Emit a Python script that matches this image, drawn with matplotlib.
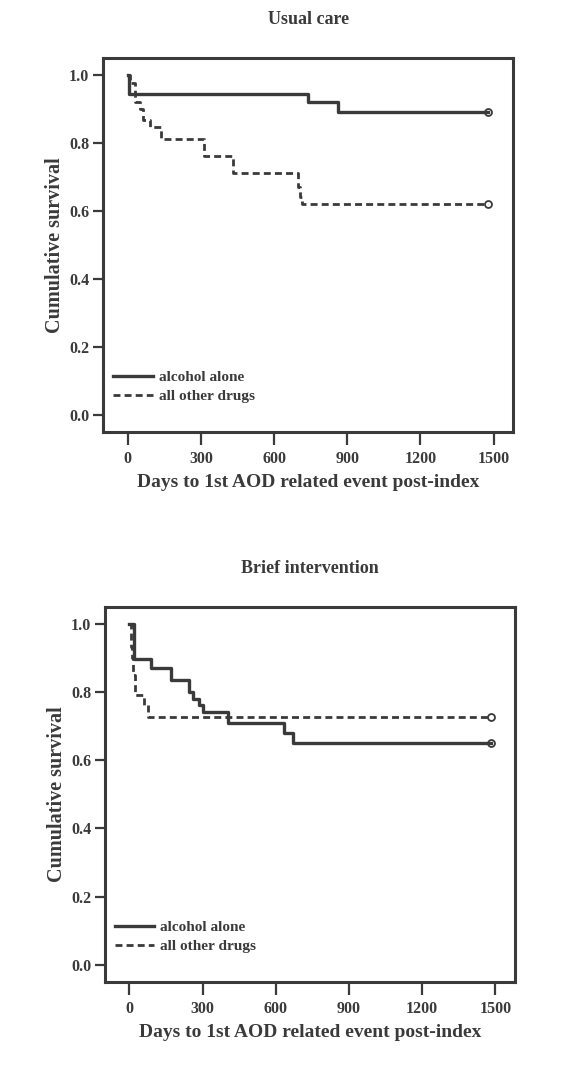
import matplotlib
matplotlib.use('Agg')
import matplotlib.pyplot as plt

# Usual care
uc_alc_days = [0, 5, 741, 863, 1477]
uc_alc_surv = [1.0, 0.943, 0.918, 0.889, 0.889]
uc_oth_days = [0, 8, 30, 50, 65, 90, 135, 311, 430, 698, 706, 716, 1477]
uc_oth_surv = [1.0, 0.975, 0.92, 0.90, 0.865, 0.845, 0.81, 0.76, 0.71, 0.67, 0.64, 0.62, 0.62]

# Brief intervention
bi_alc_days = [0, 20, 90, 172, 246, 262, 287, 302, 405, 634, 670, 1480]
bi_alc_surv = [1.0, 0.896, 0.87, 0.835, 0.80, 0.78, 0.76, 0.74, 0.71, 0.68, 0.65, 0.65]
bi_oth_days = [0, 5, 10, 15, 25, 60, 77, 1480]
bi_oth_surv = [1.0, 0.93, 0.90, 0.85, 0.79, 0.76, 0.727, 0.727]

panel_titles = ["Usual care", "Brief intervention"]
series_labels = ["alcohol alone", "all other drugs"]
x_ticks = [0, 300, 600, 900, 1200, 1500]
y_ticks = [0.0, 0.2, 0.4, 0.6, 0.8, 1.0]

plt.rcParams['font.family'] = ['Liberation Serif', 'DejaVu Serif']
plt.rcParams['font.weight'] = 'bold'
plt.rcParams['axes.titleweight'] = 'bold'
plt.rcParams['axes.labelweight'] = 'bold'

ink = '#3a3a3a'
fig = plt.figure(figsize=(5.64, 10.66), dpi=100)

panels = [
    (uc_alc_days, uc_alc_surv, uc_oth_days, uc_oth_surv, [0.183, 0.595, 0.727, 0.351]),
    (bi_alc_days, bi_alc_surv, bi_oth_days, bi_oth_surv, [0.186, 0.079, 0.727, 0.352]),
]

for title, (ad, asv, od, osv, rect) in zip(panel_titles, panels):
    ax = fig.add_axes(rect)
    ax.step(ad, asv, where='post', color=ink, lw=2.4, label=series_labels[0])
    ax.step(od, osv, where='post', color=ink, lw=2.0,
            linestyle=(0, (2.5, 1.5)), label=series_labels[1])
    # censored at end of follow-up
    ax.plot(ad[-1], asv[-1], marker='o', mfc='none', mec=ink, ms=5, mew=1.3)
    ax.plot(od[-1], osv[-1], marker='o', mfc='none', mec=ink, ms=5, mew=1.3)

    ax.set_xlim(-100, 1580)
    ax.set_ylim(-0.05, 1.05)
    ax.set_xticks(x_ticks)
    ax.set_yticks(y_ticks)
    ax.set_yticklabels([f"{v:.1f}" for v in y_ticks])
    ax.tick_params(direction='out', length=7, width=1.6, color=ink,
                   labelsize=11.5, labelcolor=ink, pad=3)
    ax.tick_params(axis='x', length=9, pad=5)
    for s in ax.spines.values():
        s.set_linewidth(2.2)
        s.set_color(ink)

    ax.set_title(title, fontsize=13, color=ink, pad=24)
    ax.set_xlabel("Days to 1st AOD related event post-index", fontsize=14,
                  color=ink, labelpad=5)
    ax.set_ylabel("Cumulative survival", fontsize=14.5, color=ink, labelpad=3)
    ax.legend(loc='upper left', bbox_to_anchor=(-0.01, 0.2), frameon=False,
              fontsize=11, handlelength=2.6, handletextpad=0.4,
              labelspacing=0.35, labelcolor=ink)

fig.savefig('out.png', dpi=100, facecolor='white')
